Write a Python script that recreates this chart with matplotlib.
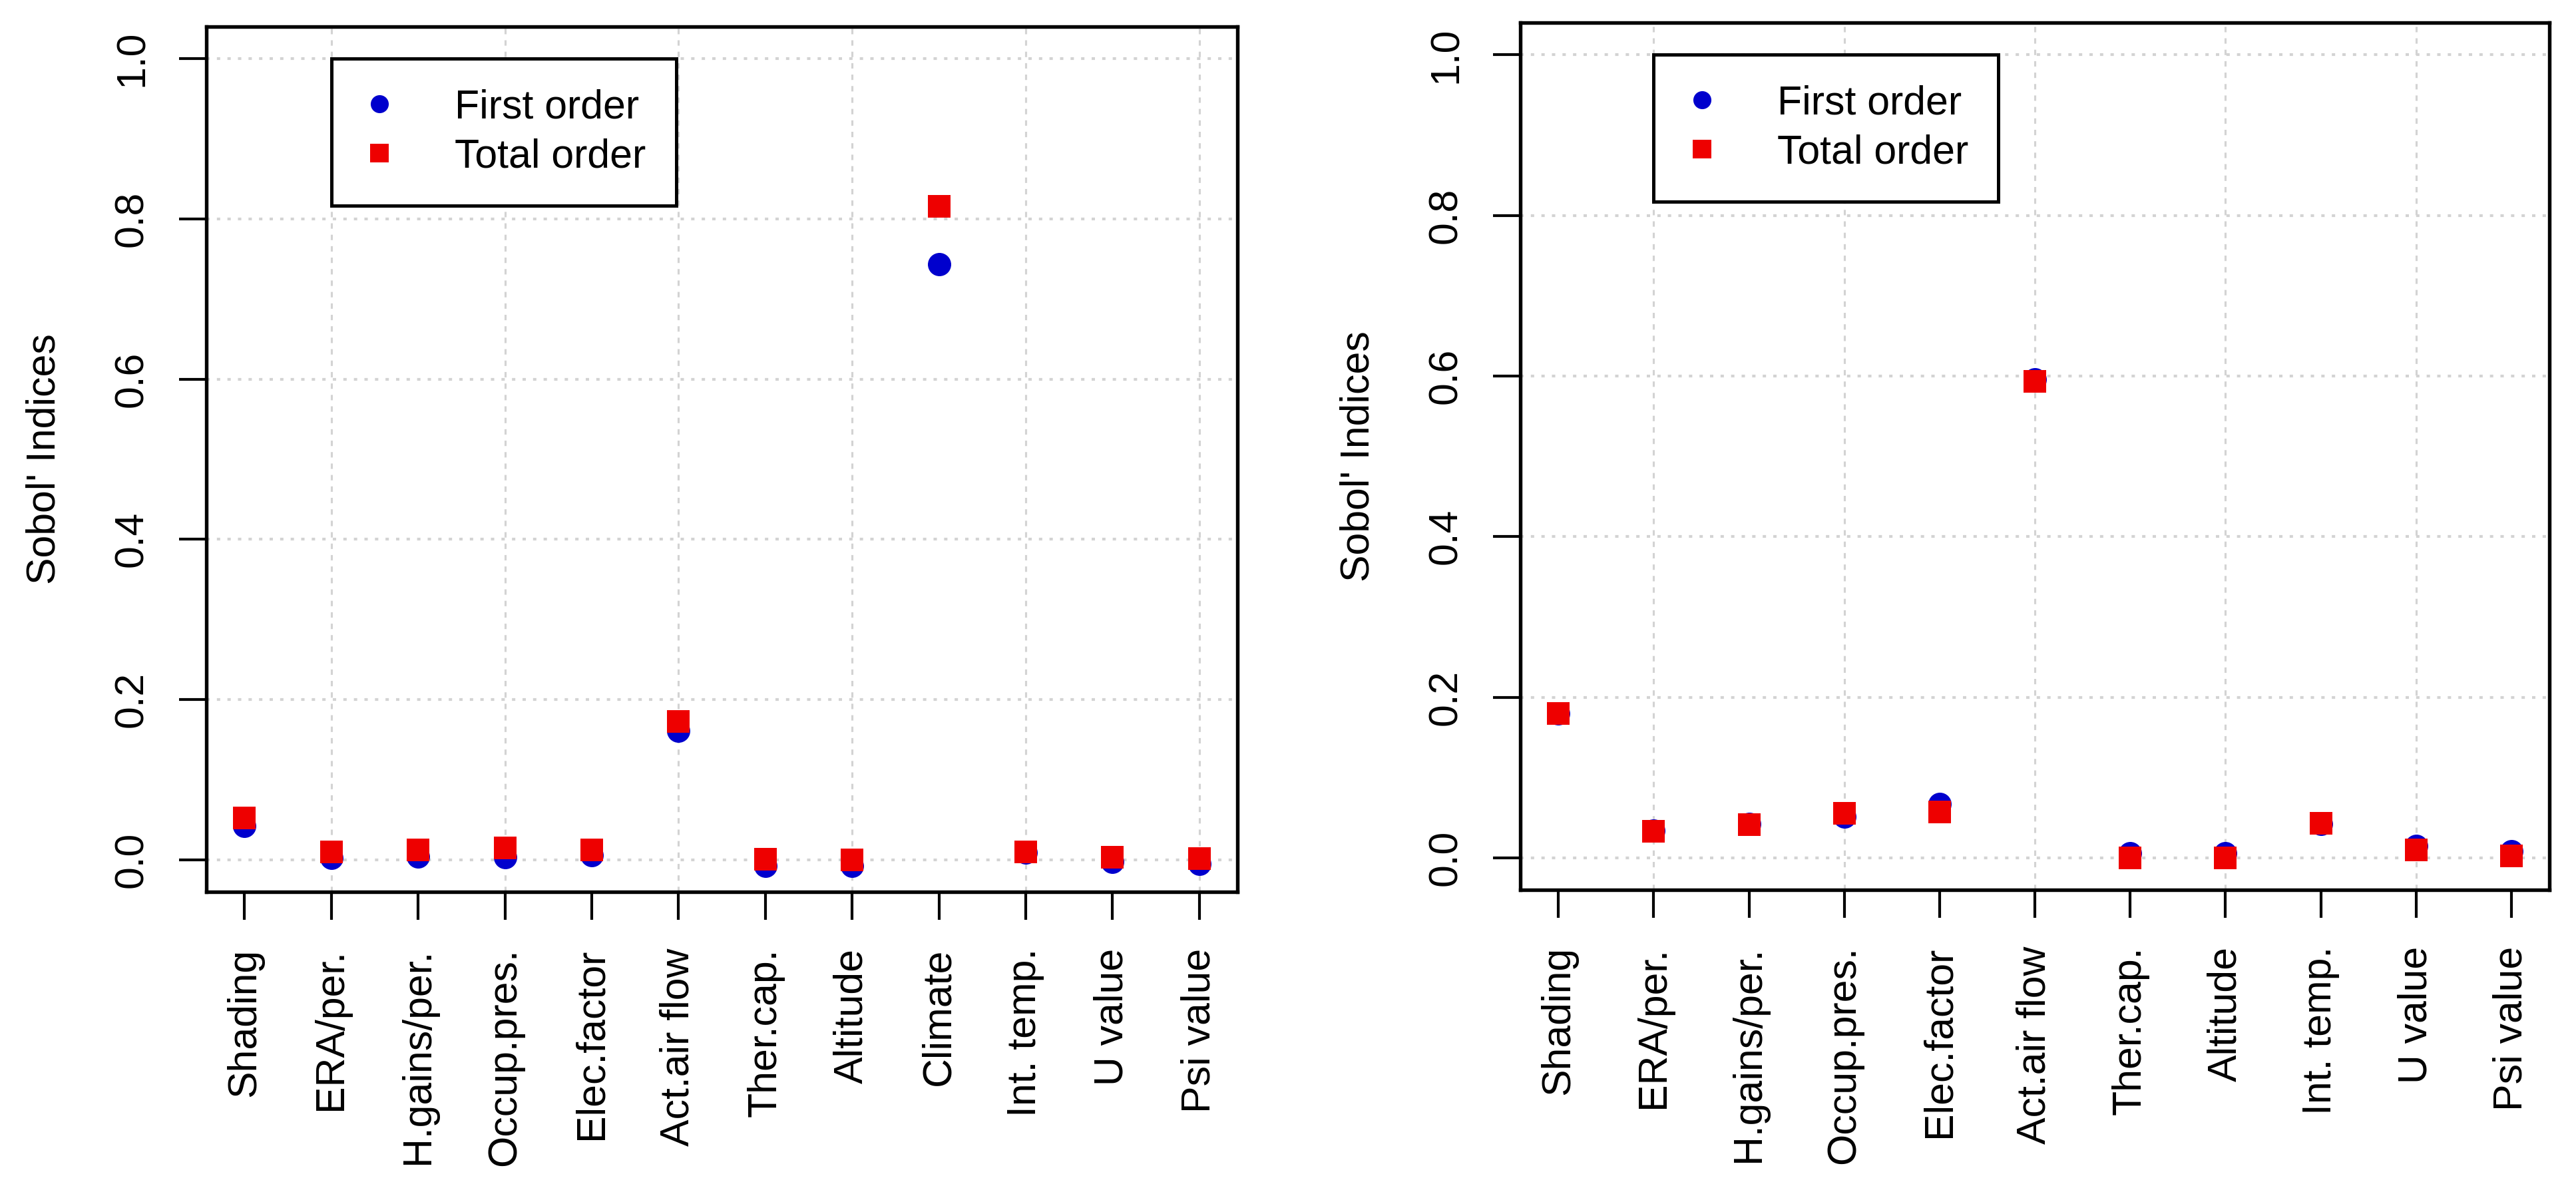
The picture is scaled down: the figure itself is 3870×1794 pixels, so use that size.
import matplotlib
matplotlib.use("Agg")
from matplotlib import pyplot as plt
from matplotlib.lines import Line2D

plt.rcParams['font.family'] = ['Liberation Sans', 'DejaVu Sans']

# left panel (with Climate)
nomes_esq = ["Shading", "ERA/per.", "H.gains/per.", "Occup.pres.", "Elec.factor",
             "Act.air flow", "Ther.cap.", "Altitude", "Climate", "Int. temp.",
             "U value", "Psi value"]
primeira_esq = [0.042, 0.002, 0.004, 0.003, 0.006, 0.161, -0.0075, -0.0075,
                0.743, 0.009, -0.003, -0.005]
total_esq = [0.052, 0.0095, 0.012, 0.015, 0.012, 0.173, 0.0005, 0.0,
             0.816, 0.0095, 0.0035, 0.0013]

# right panel (without Climate)
nomes_dir = ["Shading", "ERA/per.", "H.gains/per.", "Occup.pres.", "Elec.factor",
             "Act.air flow", "Ther.cap.", "Altitude", "Int. temp.", "U value",
             "Psi value"]
primeira_dir = [0.180, 0.034, 0.042, 0.051, 0.067, 0.596, 0.006, 0.006,
                0.042, 0.015, 0.008]
total_dir = [0.180, 0.033, 0.041, 0.055, 0.057, 0.593, 0.0, 0.0,
             0.043, 0.010, 0.002]

y_ticks = [0.0, 0.2, 0.4, 0.6, 0.8, 1.0]
y_labels = ["0.0", "0.2", "0.4", "0.6", "0.8", "1.0"]
legenda = ["First order", "Total order"]

AZUL = "#0000CD"
VERMELHO = "#EE0000"
CINZA = "#D3D3D3"
FS = 14.6


def faz_painel(ax, nomes, primeira, total):
    n = len(nomes)
    x = list(range(1, n + 1))
    ext = 0.04 * (n - 1)
    ax.set_xlim(1 - ext, n + ext)
    ax.set_ylim(-0.04, 1.04)

    # grid like R's grid()
    for yv in y_ticks:
        ax.axhline(yv, color=CINZA, lw=1.0, dashes=(1.2, 2.6), zorder=1)
    for xv in range(2, n + 1, 2):
        ax.axvline(xv, color=CINZA, lw=0.75, dashes=(2.6, 2.9), zorder=1)

    ax.plot(x, primeira, 'o', color=AZUL, ms=8.4, mew=0, zorder=3)
    ax.plot(x, total, 's', color=VERMELHO, ms=8.1, mew=0, zorder=4)

    ax.set_xticks(x)
    ax.set_xticklabels(nomes, rotation=90, fontsize=FS)
    ax.set_yticks(y_ticks)
    ax.set_yticklabels(y_labels, rotation=90, va='center', fontsize=FS)
    ax.tick_params(axis='x', length=10, width=1.0, pad=10.3)
    ax.tick_params(axis='y', length=9.8, width=1.0, pad=10)
    for sp in ax.spines.values():
        sp.set_linewidth(1.3)

    ax.set_ylabel("Sobol' Indices", fontsize=FS, va='center')
    ax.yaxis.set_label_coords(-0.157, 0.5)

    handles = [Line2D([], [], ls='', marker='o', color=AZUL, ms=6.5, mew=0),
               Line2D([], [], ls='', marker='s', color=VERMELHO, ms=6.5, mew=0)]
    leg = ax.legend(handles, legenda, loc='upper left', bbox_to_anchor=(2, 1.0),
                    bbox_transform=ax.transData, borderaxespad=0, fontsize=FS,
                    fancybox=False, edgecolor='black', framealpha=1,
                    borderpad=0.74, labelspacing=0.28, handlelength=0.9,
                    handletextpad=1.41)
    leg.get_frame().set_linewidth(1.2)
    leg.set_zorder(5)


fig = plt.figure(figsize=(12.9, 5.98), dpi=300)
ax1 = fig.add_axes([0.0801, 0.2531, 0.4003, 0.7246])
ax2 = fig.add_axes([0.5902, 0.2547, 0.3995, 0.7263])
faz_painel(ax1, nomes_esq, primeira_esq, total_esq)
faz_painel(ax2, nomes_dir, primeira_dir, total_dir)
plt.savefig("out.png", dpi=300)
